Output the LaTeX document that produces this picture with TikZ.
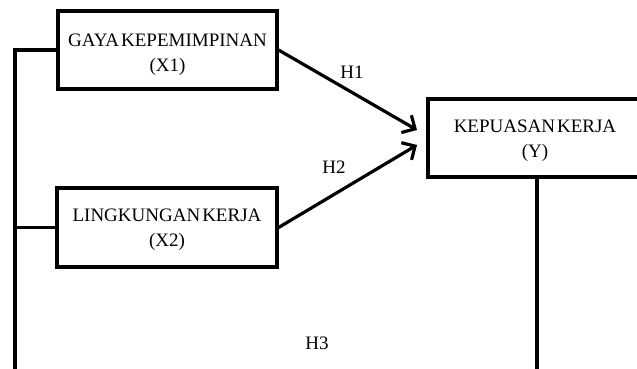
\documentclass[tikz,border=0pt]{standalone}
\usepackage{fontspec}
\setmainfont{Liberation Serif}
\usetikzlibrary{arrows.meta}
\newcommand\tightsp{\spaceskip=2pt plus 1pt\relax}
\begin{document}
\begin{tikzpicture}[x=1pt,y=-1pt,
  box/.style={draw=black,line width=3.2pt,fill=white,inner sep=0pt,align=center,
    font=\fontsize{19}{25}\selectfont},
  conn/.style={draw=black,line width=3.2pt},
  arr/.style={conn,-{Straight Barb[length=10pt,width=20pt,line width=3.2pt]}},
  lbl/.style={inner sep=0pt,font=\fontsize{19}{22}\selectfont}]
\useasboundingbox (0,0) rectangle (637,369);
\fill[white] (0,0) rectangle (637,369);
% free ends
\coordinate (lb) at (15,372);
\coordinate (rb) at (537,372);
\coordinate (ta) at (417,130);
\coordinate (tb) at (417,145);
% boxes
\node[box,minimum width=219pt,minimum height=78pt] (x1) at (167.5,50)
  {\tightsp\rule{0pt}{22pt}GAYA KEPEMIMPINAN\\(X1)};
\node[box,minimum width=220pt,minimum height=79pt] (x2) at (167,227.5)
  {\tightsp\rule{0pt}{17pt}LINGKUNGAN KERJA\\(X2)};
\node[box,minimum width=214pt,minimum height=78pt] (y) at (535,138)
  {\tightsp\rule{0pt}{18pt}KEPUASAN KERJA\\(Y)};
% connectors
\draw[conn] (x1.west) -| (lb);
\draw[conn] (x2.west) -- (x2.west -| lb);
\draw[conn] (y.south -| rb) -- (rb);
\draw[arr] (x1.east) -- (ta);
\draw[arr] (x2.east) -- (tb);
% labels
\node[lbl] (h1) at (352,72) {H1};
\node[lbl] (h2) at (334,167) {H2};
\node[lbl] (h3) at (317,343) {H3};
\end{tikzpicture}
\end{document}
